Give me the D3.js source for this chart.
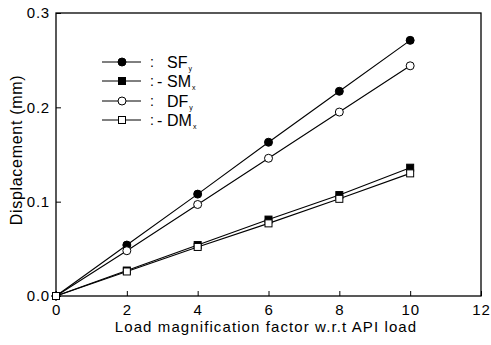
<!DOCTYPE html>
<html>
<head>
<meta charset="utf-8">
<script src="https://cdn.jsdelivr.net/npm/d3@7"></script>
<style>
  body { margin: 0; background: #fff; }
  svg { font-family: "Liberation Sans", Arial, sans-serif; }
</style>
</head>
<body>
<div id="chart"></div>
<script>
// load factor on x
var loadFactor = [0, 2, 4, 6, 8, 10];
var sfY = [0, 0.054, 0.108, 0.163, 0.217, 0.271];
var smX = [0, 0.027, 0.054, 0.081, 0.107, 0.136];
var dfY = [0, 0.048, 0.097, 0.146, 0.195, 0.244];
var dmX = [0, 0.026, 0.052, 0.077, 0.103, 0.130];
var xTicks = [0, 2, 4, 6, 8, 10, 12];
var yTicks = [0, 0.1, 0.2, 0.3];

var series = [
  { name: "SF", sub: "y", dash: false, values: sfY, shape: "circle", fill: "#000" },
  { name: "SM", sub: "x", dash: true, values: smX, shape: "square", fill: "#000" },
  { name: "DF", sub: "y", dash: false, values: dfY, shape: "circle", fill: "#fff" },
  { name: "DM", sub: "x", dash: true, values: dmX, shape: "square", fill: "#fff" }
];

var width = 491, height = 345;
var margin = { top: 13, right: 10, bottom: 49, left: 56 };
var w = 481 - margin.left, h = 296 - margin.top;

var svg = d3.select("#chart").append("svg")
  .attr("width", width)
  .attr("height", height);

var g = svg.append("g")
  .attr("transform", "translate(" + margin.left + "," + margin.top + ")");

var x = d3.scaleLinear().domain([0, 12]).range([0, w]);
var y = d3.scaleLinear().domain([0, 0.3]).range([h, 0]);

// frame
g.append("rect")
  .attr("width", w).attr("height", h)
  .attr("fill", "none").attr("stroke", "#000").attr("stroke-width", 1.3);

// axes, ticks inside
var xAxis = g.append("g")
  .attr("transform", "translate(0," + h + ")")
  .call(d3.axisBottom(x).tickValues(xTicks).tickSize(-5).tickPadding(8).tickFormat(d3.format("d")));
var yAxis = g.append("g")
  .call(d3.axisLeft(y).tickValues(yTicks).tickSize(-5).tickPadding(6).tickFormat(d3.format(".1f")));

[xAxis, yAxis].forEach(function (a) {
  a.select(".domain").remove();
  a.selectAll("line").attr("stroke", "#000");
  a.selectAll("text").attr("fill", "#000")
    .style("font-size", "15px").style("letter-spacing", "0.8px");
});

var line = d3.line()
  .x(function (d, i) { return x(loadFactor[i]); })
  .y(function (d) { return y(d); });

function drawMarker(sel, s) {
  if (s.shape == "circle") {
    sel.append("circle").attr("r", 4)
      .attr("fill", s.fill).attr("stroke", "#000").attr("stroke-width", 1);
  } else {
    sel.append("rect").attr("x", -3.5).attr("y", -3.5).attr("width", 7).attr("height", 7)
      .attr("fill", s.fill).attr("stroke", "#000").attr("stroke-width", 1);
  }
}

series.forEach(function (s) {
  g.append("path")
    .datum(s.values)
    .attr("d", line)
    .attr("fill", "none")
    .attr("stroke", "#000")
    .attr("stroke-width", 1.1);

  g.selectAll(".m" + s.name)
    .data(s.values)
    .enter().append("g")
    .attr("transform", function (d, i) { return "translate(" + x(loadFactor[i]) + "," + y(d) + ")"; })
    .each(function () { drawMarker(d3.select(this), s); });
});

// legend
var legend = svg.append("g");
var rowY = [62, 81, 101, 120];
series.forEach(function (s, i) {
  var row = legend.append("g").attr("transform", "translate(0," + rowY[i] + ")");
  row.append("line").attr("x1", 102).attr("x2", 141).attr("y1", 0).attr("y2", 0)
    .attr("stroke", "#000").attr("stroke-width", 1);
  var m = row.append("g").attr("transform", "translate(122,0)");
  drawMarker(m, s);
  row.append("text").attr("x", 150).attr("y", 5).style("font-size", "14px").text(":");
  if (s.dash) {
    row.append("text").attr("x", 157).attr("y", 6).style("font-size", "16px").text("-");
  }
  var t = row.append("text").attr("x", 167).attr("y", 6).style("font-size", "16px");
  t.text(s.name);
  t.append("tspan").attr("dx", 1).attr("dy", 2.5).style("font-size", "7px").text(s.sub);
});

// axis titles
svg.append("text")
  .attr("x", 266)
  .attr("y", 332)
  .attr("text-anchor", "middle")
  .style("font-size", "15px")
  .style("letter-spacing", "1.1px")
  .text("Load magnification factor w.r.t API load");

svg.append("text")
  .attr("transform", "translate(22,150) rotate(-90)")
  .attr("text-anchor", "middle")
  .style("font-size", "16px")
  .style("letter-spacing", "0.7px")
  .text("Displacement  (mm)");
</script>
</body>
</html>
